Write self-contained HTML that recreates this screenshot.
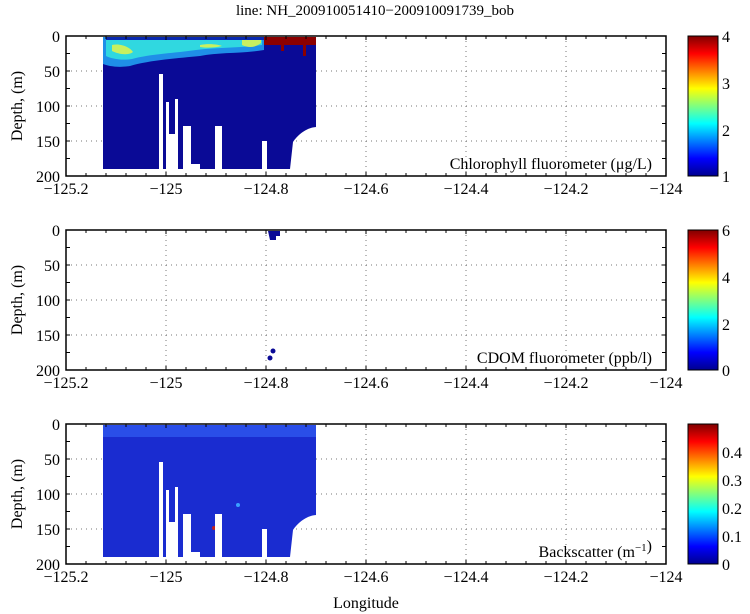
<!DOCTYPE html>
<html><head><meta charset="utf-8"><style>
html,body{margin:0;padding:0;background:#fff}
svg{display:block}
text{font-family:"Liberation Serif",serif;fill:#000}
</style></head><body>
<svg width="750" height="614" viewBox="0 0 750 614" xmlns="http://www.w3.org/2000/svg">
<defs>
<linearGradient id="jet" x1="0" y1="1" x2="0" y2="0">
<stop offset="0" stop-color="#00008f"/><stop offset="0.125" stop-color="#0000ff"/>
<stop offset="0.375" stop-color="#00ffff"/><stop offset="0.625" stop-color="#ffff00"/>
<stop offset="0.875" stop-color="#ff0000"/><stop offset="1" stop-color="#800000"/>
</linearGradient>
<g id="grid" stroke="#777" stroke-width="1" stroke-dasharray="1,4" fill="none">
<path d="M166,0V140M266,0V140M366,0V140M466,0V140M566,0V140M66,35H666M66,70H666M66,105H666"/>
</g>
<g id="frame" stroke="#000" fill="none">
<path stroke-width="1" d="M66,0v4M86,0v3M106,0v3M126,0v3M146,0v3M166,0v4M186,0v3M206,0v3M226,0v3M246,0v3M266,0v4M286,0v3M306,0v3M326,0v3M346,0v3M366,0v4M386,0v3M406,0v3M426,0v3M446,0v3M466,0v4M486,0v3M506,0v3M526,0v3M546,0v3M566,0v4M586,0v3M606,0v3M626,0v3M646,0v3
M86,140v-3M106,140v-3M126,140v-3M146,140v-3M166,140v-4M186,140v-3M206,140v-3M226,140v-3M246,140v-3M266,140v-4M286,140v-3M306,140v-3M326,140v-3M346,140v-3M366,140v-4M386,140v-3M406,140v-3M426,140v-3M446,140v-3M466,140v-4M486,140v-3M506,140v-3M526,140v-3M546,140v-3M566,140v-4M586,140v-3M606,140v-3M626,140v-3M646,140v-3
M66,17.5h4M66,35h4M66,52.5h4M66,70h4M66,87.5h4M66,105h4M66,122.5h4M666,17.5h-4M666,35h-4M666,52.5h-4M666,70h-4M666,87.5h-4M666,105h-4M666,122.5h-4"/>
<rect x="66" y="0" width="600" height="140" stroke-width="1.5"/>
</g>
<g id="xl" font-size="16" text-anchor="middle">
<text x="66" y="158">−125.2</text><text x="166" y="158">−125</text><text x="266" y="158">−124.8</text>
<text x="366" y="158">−124.6</text><text x="466" y="158">−124.4</text><text x="566" y="158">−124.2</text><text x="666" y="158">−124</text>
</g>
<g id="yl" font-size="16" text-anchor="end">
<text x="60" y="6">0</text><text x="60" y="41">50</text><text x="60" y="76">100</text><text x="60" y="111">150</text><text x="60" y="146">200</text>
</g>
<g id="gaps" fill="#fff">
<rect x="159" y="38" width="4" height="96"/><rect x="166" y="66" width="3" height="68"/>
<rect x="169" y="98" width="8" height="36"/><rect x="175" y="63" width="3" height="71"/>
<rect x="183" y="90" width="8" height="44"/><rect x="190" y="128" width="10" height="6"/>
<rect x="215" y="90" width="7" height="44"/><rect x="262" y="105" width="5" height="29"/>
</g>
<path id="body" d="M103,1H316V91C305,92 297,100 293,106L290,133H103Z"/>
</defs>

<text x="375" y="15" font-size="15" text-anchor="middle">line: NH_200910051410−200910091739_bob</text>

<!-- Panel 1 -->
<g transform="translate(0,36)">
<use href="#grid"/>
<use href="#body" fill="#0a0a96"/>
<path fill="#1f8fe8" d="M103,1H264V14C240,18 220,16 200,20C180,22 150,24 130,30C118,32 108,30 103,28Z"/>
<path fill="#30d8e0" d="M106,4H262V9C240,12 220,11 196,14C176,17 150,18 132,23C120,25 110,22 106,20Z"/>
<path fill="#c8f060" d="M112,9C120,7 130,11 133,16C128,20 118,18 112,15Z M242,4H261V7C255,12 248,12 242,9Z M200,9C210,7 220,9 222,10C214,12 206,12 200,11Z"/>
<rect x="106" y="1" width="210" height="3" fill="#0a2ab0"/>
<path fill="#8b0000" d="M264,1H316V9H306V20H303V9H284V15H281V9H264Z"/>
<use href="#gaps"/>
<use href="#frame"/><use href="#xl"/><use href="#yl"/>
<text x="652" y="133" font-size="16" text-anchor="end">Chlorophyll fluorometer (μg/L)</text>
<rect x="688" y="0" width="30" height="140" fill="url(#jet)" stroke="#000"/>
<g font-size="16"><text x="722" y="6">4</text><text x="722" y="53">3</text><text x="722" y="100">2</text><text x="722" y="146">1</text></g>
</g>

<!-- Panel 2 -->
<g transform="translate(0,230)">
<use href="#grid"/>
<path fill="#0a0a96" d="M268,1H280V6H276V10H270Z"/>
<circle cx="273" cy="121" r="2.5" fill="#0a0a96"/><circle cx="270" cy="128" r="2.5" fill="#0a0a96"/>
<use href="#frame"/><use href="#xl"/><use href="#yl"/>
<text x="652" y="133" font-size="16" text-anchor="end">CDOM fluorometer (ppb/l)</text>
<rect x="688" y="0" width="30" height="140" fill="url(#jet)" stroke="#000"/>
<g font-size="16"><text x="722" y="6">6</text><text x="722" y="53">4</text><text x="722" y="100">2</text><text x="722" y="146">0</text></g>
</g>

<!-- Panel 3 -->
<g transform="translate(0,424)">
<use href="#grid"/>
<use href="#body" fill="#1a2cd0"/>
<rect x="103" y="1" width="213" height="12" fill="#2a4ee8"/>
<circle cx="214" cy="104" r="2" fill="#c02020"/><circle cx="238" cy="81" r="2" fill="#3aa0ff"/>
<use href="#gaps"/>
<use href="#frame"/><use href="#xl"/><use href="#yl"/>
<text x="652" y="133" font-size="16" text-anchor="end">Backscatter (m<tspan dy="-6" font-size="11">−1</tspan>)</text>
<rect x="688" y="0" width="30" height="140" fill="url(#jet)" stroke="#000"/>
<g font-size="16"><text x="722" y="34">0.4</text><text x="722" y="62">0.3</text><text x="722" y="90">0.2</text><text x="722" y="118">0.1</text><text x="722" y="146">0</text></g>
</g>

<text x="366" y="608" font-size="16" text-anchor="middle">Longitude</text>
<text transform="translate(22,106) rotate(-90)" font-size="16" text-anchor="middle">Depth, (m)</text>
<text transform="translate(22,300) rotate(-90)" font-size="16" text-anchor="middle">Depth, (m)</text>
<text transform="translate(22,494) rotate(-90)" font-size="16" text-anchor="middle">Depth, (m)</text>
</svg>
</body></html>
